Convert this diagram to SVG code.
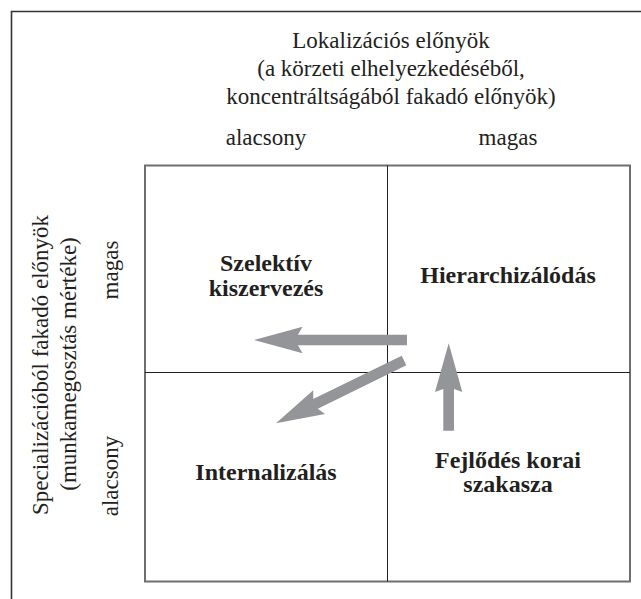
<svg xmlns="http://www.w3.org/2000/svg" width="641" height="599" viewBox="0 0 641 599">
<style>
.t{font-family:"Liberation Serif","Times New Roman",serif;font-size:23px;fill:#231f20;text-anchor:middle}
.b{font-family:"Liberation Serif","Times New Roman",serif;font-size:24px;font-weight:bold;fill:#231f20;text-anchor:middle}
.arr{fill:#939598;stroke:none}
.grid{fill:none;stroke:#6d6e71;stroke-width:2}
.in{stroke:#231f20;stroke-width:1}
</style>
<rect width="641" height="599" fill="#fff"/>
<path d="M11.5,599 V11.5 H641" fill="none" stroke="#333" stroke-width="1.6"/>
<g id="grid">
<rect class="grid" x="145" y="165.5" width="485" height="416"/>
<line class="in" x1="387.5" y1="165.5" x2="387.5" y2="581.5"/>
<line class="in" x1="145" y1="372.5" x2="630" y2="372.5"/>
</g>
<g id="x-axis">
<text class="t" x="391" y="48">Lokalizációs előnyök</text>
<text class="t" x="391" y="76">(a körzeti elhelyezkedéséből,</text>
<text class="t" x="391" y="104">koncentráltságából fakadó előnyök)</text>
<text class="t" x="266" y="145">alacsony</text>
<text class="t" x="508" y="145">magas</text>
</g>
<g id="y-axis">
<text class="t" transform="translate(48,365) rotate(-90)">Specializációból fakadó előnyök</text>
<text class="t" transform="translate(76,364) rotate(-90)">(munkamegosztás mértéke)</text>
<text class="t" transform="translate(118,270) rotate(-90)">magas</text>
<text class="t" transform="translate(118,476) rotate(-90)">alacsony</text>
</g>
<g id="node-szelektiv">
<text class="b" x="266" y="271">Szelektív</text>
<text class="b" x="266" y="296">kiszervezés</text>
</g>
<g id="node-hierarchizalodas">
<text class="b" x="508" y="283">Hierarchizálódás</text>
</g>
<g id="node-internalizalas">
<text class="b" x="266" y="480">Internalizálás</text>
</g>
<g id="node-fejlodes">
<text class="b" x="508" y="468">Fejlődés korai</text>
<text class="b" x="508" y="492">szakasza</text>
</g>
<g id="connectors">
<polygon class="arr" points="407,334.7 298,334.7 302.5,326.7 254,340 302.5,353.3 298,345.3 407,345.3"/>
<polygon class="arr" points="401.7,355.7 313.2,399.1 313.2,390.3 276,423.3 325,414.1 317.8,408.7 406.3,365.3"/>
<polygon class="arr" points="443.3,430.7 443.3,389 435,392 448.7,343.3 462.3,392 454,389 454,430.7"/>
</g>
</svg>
